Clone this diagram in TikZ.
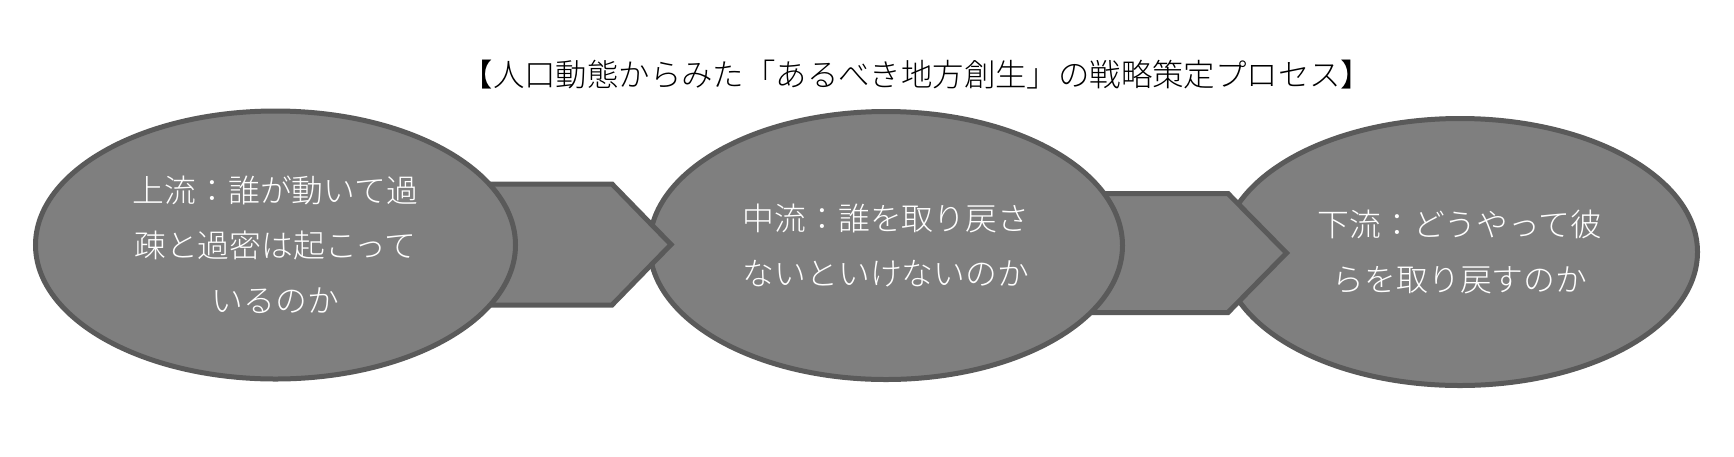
\documentclass[tikz,border=0pt]{standalone}
\usepackage{fontspec}
\setmainfont{Noto Sans CJK JP}[UprightFont={* Light}]
\usetikzlibrary{shapes.geometric,calc}
\definecolor{fillgray}{HTML}{7F7F7F}
\definecolor{edgegray}{HTML}{5A5A5A}
\begin{document}
\begin{tikzpicture}[x=0.5pt,y=-0.5pt,
  bubble/.style={ellipse, draw=edgegray, fill=fillgray, line width=2.5pt,
    inner sep=0pt, outer sep=0pt, text=white, align=center,
    font=\fontsize{15.9}{27.5}\selectfont},
  chevron/.style={draw=edgegray, fill=fillgray, line width=2.5pt, line join=miter}]
\useasboundingbox (0,0) rectangle (1734,456);
\node[font=\fontsize{15.7}{18}\selectfont, text=black] (title) at (917,75)
  {【人口動態からみた「あるべき地方創生」の戦略策定プロセス】};
% downstream (drawn first, lies underneath)
\node[bubble, minimum width=237.5pt, minimum height=133.5pt] (down) at (1460,252)
  {下流：どうやって彼\\らを取り戻すのか};
\coordinate (tipB) at (1286.5,253);
\draw[chevron] (tipB) -- ++(-58.5,-59.5) -- ++(-140,0) -- ++(0,119) -- ++(140,0) -- cycle;
% midstream
\node[bubble, minimum width=236.5pt, minimum height=134pt] (mid) at (886,245.5)
  {中流：誰を取り戻さ\\ないといけないのか};
\coordinate (tipA) at (671,244.5);
\draw[chevron] (tipA) -- ++(-59,-60.5) -- ++(-140,0) -- ++(0,121) -- ++(140,0) -- cycle;
% upstream
\node[bubble, minimum width=240pt, minimum height=134pt] (up) at (275.5,245)
  {上流：誰が動いて過\\疎と過密は起こって\\いるのか};
\end{tikzpicture}
\end{document}
